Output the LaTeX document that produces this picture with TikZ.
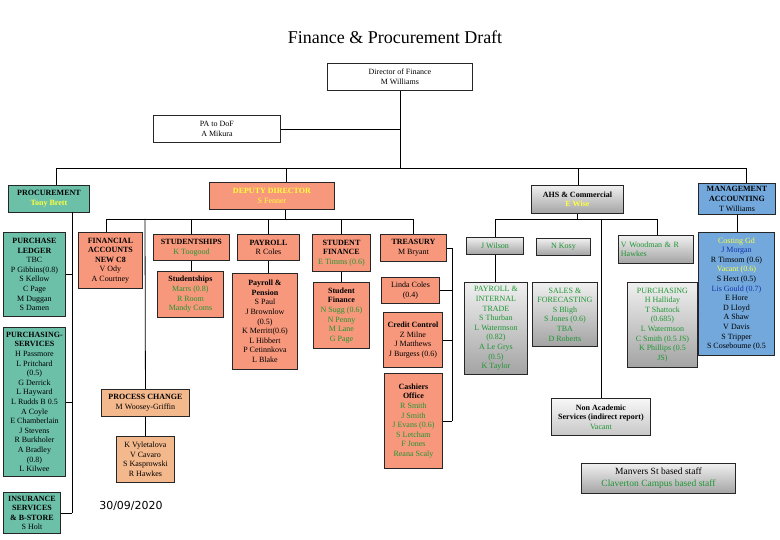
\documentclass[tikz,border=0pt]{standalone}
\usepackage{fontspec}
\setmainfont{Liberation Serif}
\newfontfamily\datefont{DejaVu Sans}
\definecolor{tealfill}{RGB}{108,192,168}
\definecolor{salfill}{RGB}{247,152,124}
\definecolor{tanfill}{RGB}{243,184,140}
\definecolor{bluefill}{RGB}{114,168,220}
\definecolor{grn}{RGB}{30,150,50}
\definecolor{yel}{RGB}{255,255,60}
\definecolor{blu}{RGB}{20,50,170}
\newcommand\tgr[1]{\textcolor{grn}{#1}}
\newcommand\tye[1]{\textcolor{yel}{#1}}
\newcommand\tbl[1]{\textcolor{blu}{#1}}
\tikzset{
  box/.style={draw=black!85, line width=0.9pt, anchor=north west, align=center,
    inner sep=1.5pt, font=\fontsize{8}{9.6}\selectfont, text=black},
  wbox/.style={box, fill=white},
  tbox/.style={box, fill=tealfill},
  sbox/.style={box, fill=salfill},
  obox/.style={box, fill=tanfill},
  bbox/.style={box, fill=bluefill},
  gbox/.style={box, top color=black!6, bottom color=black!36},
  conn/.style={draw=black, line width=0.8pt}
}
\begin{document}
\begin{tikzpicture}[x=1pt,y=-1pt]
\useasboundingbox (0,0) rectangle (780,540);
\fill[white] (0,0) rectangle (780,540);

\node[font=\fontsize{18}{20}\selectfont] (title) at (395,37) {Finance \& Procurement Draft};

% top level
\node[wbox, minimum width=145pt, minimum height=27pt] (dir) at (327,63) {Director of Finance\\M Williams};
\node[wbox, minimum width=127pt, minimum height=27pt] (pa) at (153,115) {PA to DoF\\A Mikura};

\node[tbox, minimum width=81pt, minimum height=27pt] (proc) at (8,185) {\textbf{PROCUREMENT}\\\tye{\textbf{Tony Brett}}};
\node[sbox, minimum width=125pt, minimum height=27pt] (dep) at (209,182) {\tye{\textbf{DEPUTY DIRECTOR}}\\\tye{S Fenner}};
\node[gbox, minimum width=92pt, minimum height=28pt] (ahs) at (531,185) {\textbf{AHS \& Commercial}\\\tye{\textbf{E Wise}}};
\node[bbox, minimum width=77pt, minimum height=31pt] (mgmt) at (698,183) {\textbf{MANAGEMENT}\\\textbf{ACCOUNTING}\\T Williams};

% procurement
\node[tbox, minimum width=62pt, minimum height=84pt] (pl) at (3,232) {\textbf{PURCHASE}\\\textbf{LEDGER}\\TBC\\P Gibbins(0.8)\\S Kellow\\C Page\\M Duggan\\S Damen};
\node[tbox, minimum width=62pt, minimum height=149pt] (ps) at (3,327) {\textbf{PURCHASING-}\\\textbf{SERVICES}\\H Passmore\\L Pritchard\\(0.5)\\G Derrick\\L Hayward\\L Rudds B 0.5\\A Coyle\\E Chamberlain\\J Stevens\\R Burkholer\\A Bradley\\(0.8)\\L Kilwee};
\node[tbox, minimum width=57pt, minimum height=41pt] (ins) at (3,492) {\textbf{INSURANCE}\\\textbf{SERVICES}\\\textbf{\& B-STORE}\\S Holt};

% deputy director
\node[sbox, minimum width=64pt, minimum height=56pt] (fa) at (78,232) {\textbf{FINANCIAL}\\\textbf{ACCOUNTS}\\\textbf{NEW C8}\\V Ody\\A Courtney};
\node[sbox, minimum width=76pt, minimum height=26pt] (st) at (153,234) {\textbf{STUDENTSHIPS}\\\tgr{K Toogood}};
\node[sbox, minimum width=66pt, minimum height=46pt] (sts) at (157,271) {\textbf{Studentships}\\\tgr{Marrs (0.8)}\\\tgr{R Room}\\\tgr{Mandy Coms}};
\node[sbox, minimum width=62pt, minimum height=26pt] (pay) at (237,234) {\textbf{PAYROLL}\\R Coles};
\node[sbox, minimum width=65pt, minimum height=96pt] (pays) at (232,273) {\textbf{Payroll \&}\\\textbf{Pension}\\S Paul\\J Brownlow\\(0.5)\\K Merritt(0.6)\\L Hibbert\\P Cetinnkova\\L Blake};
\node[sbox, minimum width=58pt, minimum height=37pt] (sf) at (312,234) {\textbf{STUDENT}\\\textbf{FINANCE}\\\tgr{E Timms (0.6)}};
\node[sbox, minimum width=56pt, minimum height=66pt] (sfs) at (313,282) {\textbf{Student}\\\textbf{Finance}\\\tgr{N Sugg (0.6)}\\\tgr{N Penny}\\\tgr{M Lane}\\\tgr{G Page}};
\node[sbox, minimum width=66pt, minimum height=27pt] (tr) at (380,234) {\textbf{TREASURY}\\M Bryant};
\node[sbox, minimum width=58pt, minimum height=26pt] (lc) at (381,277) {Linda Coles\\(0.4)};
\node[sbox, minimum width=59pt, minimum height=55pt] (cc) at (383,312) {\textbf{Credit Control}\\Z Milne\\J Matthews\\J Burgess (0.6)};
\node[sbox, minimum width=58pt, minimum height=95pt] (cash) at (384,373) {\textbf{Cashiers}\\\textbf{Office}\\\tgr{R Smith}\\\tgr{J Smith}\\\tgr{J Evans (0.6)}\\\tgr{S Letcham}\\\tgr{F Jones}\\\tgr{Reana Scaly}};
\node[obox, minimum width=88pt, minimum height=27pt] (pc) at (101,389) {\textbf{PROCESS CHANGE}\\M Woosey-Griffin};
\node[obox, minimum width=58pt, minimum height=46pt] (pcs) at (116,436) {K Vyletalova\\V Cavaro\\S Kasprowski\\R Hawkes};

% AHS
\node[gbox, minimum width=57pt, minimum height=17pt] (jw) at (466,237) {\tgr{J Wilson}};
\node[gbox, minimum width=54pt, minimum height=17pt] (nk) at (536,238) {\tgr{N Kosy}};
\node[gbox, minimum width=63pt, minimum height=92pt] (pit) at (464,282) {\tgr{PAYROLL \&}\\\tgr{INTERNAL}\\\tgr{TRADE}\\\tgr{S Thurban}\\\tgr{L Watermson}\\\tgr{(0.82)}\\\tgr{A Le Grys}\\\tgr{(0.5)}\\\tgr{K Taylor}};
\node[gbox, minimum width=65pt, minimum height=64pt] (sfc) at (532,282) {\tgr{SALES \&}\\\tgr{FORECASTING}\\\tgr{S Bligh}\\\tgr{S Jones (0.6)}\\\tgr{TBA}\\\tgr{D Roberts}};
\node[gbox, minimum width=75pt, minimum height=28pt, text width=70pt, align=left] (vw) at (618,235) {\tgr{V Woodman \& R}\\\tgr{Hawkes}};
\node[gbox, minimum width=70pt, minimum height=85pt] (pur) at (627,282) {\tgr{PURCHASING}\\\tgr{H Halliday}\\\tgr{T Shattock}\\\tgr{(0.685)}\\\tgr{L Watermson}\\\tgr{C Smith (0.5 JS)}\\\tgr{K Phillips (0.5}\\\tgr{JS)}};
\node[gbox, top color=black!3, bottom color=black!22, minimum width=99pt, minimum height=37pt] (na) at (551,398) {\textbf{Non Academic}\\\textbf{Services (indirect report)}\\\tgr{Vacant}};

% management accounting
\node[bbox, minimum width=76pt, minimum height=123pt] (mgs) at (698,232) {\tye{Costing Gd}\\\tbl{J Morgan}\\R Timsom (0.6)\\\tye{Vacant (0.6)}\\S Hext (0.5)\\\tbl{Lis Gould (0.7)}\\E Hore\\D Lloyd\\A Shaw\\V Davis\\S Tripper\\S Coseboume (0.5};

% legend and date
\node[gbox, minimum width=154pt, minimum height=30pt, font=\fontsize{9.5}{12}\selectfont] (legend) at (581,463) {Manvers St based staff\\\tgr{Claverton Campus based staff}};
\node[font=\datefont\fontsize{11}{13}\selectfont] (date) at (131,506) {30/09/2020};

% connectors: top
\coordinate (b1L) at (56,168);
\coordinate (b1R) at (746,168);
\coordinate (d1) at (286,168);
\coordinate (d2) at (578,168);
\draw[conn] (dir.south) -- (dir.south |- b1L);
\draw[conn] (pa.east) -- (pa.east -| dir.south);
\draw[conn] (b1L) -- (b1R);
\draw[conn] (b1L) -- (b1L |- proc.north);
\draw[conn] (d1) -- (d1 |- dep.north);
\draw[conn] (d2) -- (d2 |- ahs.north);
\draw[conn] (b1R) -- (b1R |- mgmt.north);

% procurement
\coordinate (pv) at (72,212);
\draw[conn] (pv) -- (pv |- ins.east);
\draw[conn] (pl.east) -- (pl.east -| pv);
\draw[conn] (ps.east) -- (ps.east -| pv);
\draw[conn] (ins.east) -- (ins.east -| pv);

% deputy
\coordinate (b2L) at (106,219);
\coordinate (b2R) at (413,219);
\coordinate (dd) at (285,219);
\coordinate (pcv) at (145,219);
\draw[conn] (dd) -- (dd |- dep.south);
\draw[conn] (b2L) -- (b2R);
\draw[conn] (b2L) -- (b2L |- fa.north);
\draw[conn] (pcv) -- (pc.north);
\draw[conn] (pc.south) -- (pcs.north);
\draw[conn] (st.north |- b2L) -- (st.north);
\draw[conn] (st.south) -- (st.south |- sts.north);
\draw[conn] (pay.north |- b2L) -- (pay.north);
\draw[conn] (pay.south) -- (pay.south |- pays.north);
\draw[conn] (sf.north |- b2L) -- (sf.north);
\draw[conn] (sf.south) -- (sf.south |- sfs.north);
\draw[conn] (b2R) -- (b2R |- tr.north);
\coordinate (tv) at (452,248);
\draw[conn] (tr.east) -- (tr.east -| tv);
\draw[conn] (tr.east -| tv) -- (cash.east -| tv);
\draw[conn] (lc.east) -- (lc.east -| tv);
\draw[conn] (cc.east) -- (cc.east -| tv);
\draw[conn] (cash.east) -- (cash.east -| tv);

% AHS
\coordinate (b3L) at (495,219);
\coordinate (b3R) at (657,219);
\draw[conn] (ahs.south) -- (ahs.south |- b3L);
\draw[conn] (b3L) -- (b3R);
\draw[conn] (b3L) -- (b3L |- jw.north);
\draw[conn] (jw.south) -- (jw.south |- pit.north);
\draw[conn] (b3R) -- (b3R |- vw.north);
\draw[conn] (na.north |- b3L) -- (na.north);

% management
\draw[conn] (mgmt.south) -- (mgmt.south |- mgs.north);
\end{tikzpicture}
\end{document}
